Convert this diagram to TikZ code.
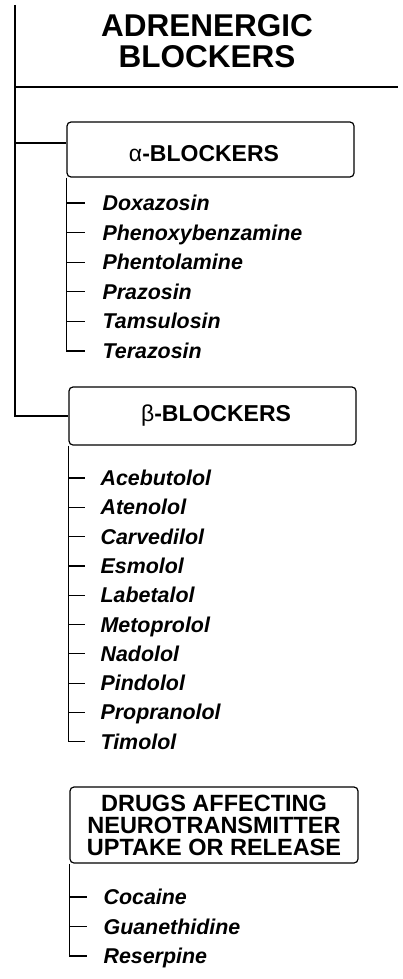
\documentclass[tikz,border=0pt]{standalone}
\usepackage{fontspec}
\setmainfont{Liberation Sans}
\begin{document}
\begin{tikzpicture}[x=1pt,y=-1pt,line width=1.2pt,
  hdr/.style={font=\fontsize{31.5}{31.5}\selectfont\bfseries,anchor=base,inner sep=0pt},
  cbox/.style={draw,rounded corners=4pt,inner sep=0pt},
  ctitle/.style={font=\fontsize{23}{23}\selectfont\bfseries,inner sep=0pt},
  drug/.style={font=\fontsize{21.4}{21.4}\selectfont\bfseries\itshape,anchor=west,inner sep=0pt,text height=15pt,text depth=0pt},
  tick/.style={line width=1.2pt}]
\useasboundingbox (0,0) rectangle (402,979);
% title
\node[hdr] (t1) at (207,37) {ADRENERGIC};
\node[hdr] (t2) at (207,68) {BLOCKERS};
\coordinate (top) at (15,5);
\coordinate (tl) at (15,87);
\coordinate (tlend) at (398,87);
\draw (tl) -- (tlend);
% boxes
\node[cbox,minimum width=287,minimum height=55] (abox) at (210.5,149.5) {};
\node[ctitle] (atext) at (204,154) {{\mdseries α}-BLOCKERS};
\node[cbox,minimum width=287,minimum height=58] (bbox) at (212.5,416) {};
\node[ctitle] (btext) at (216,416) {{\mdseries β}-BLOCKERS};
\node[cbox,minimum width=288,minimum height=76,align=center,
  font=\fontsize{23.5}{22}\selectfont\bfseries] (dbox) at (214,825)
  {DRUGS AFFECTING\\NEUROTRANSMITTER\\UPTAKE OR RELEASE};
% main trunk
\draw (top) |- (bbox.west);
\coordinate (aj) at (15,143);
\draw (aj) -- (aj -| abox.west);
% alpha items
\foreach \n [count=\i from 0] in {Doxazosin,Phenoxybenzamine,Phentolamine,Prazosin,Tamsulosin,Terazosin}
  \node[drug] (a\i) at (102,{203+29.6*\i}) {\n};
\draw (abox.south west) |- ([xshift=-17pt]a5.west);
\foreach \i in {0,...,4}
  \draw[tick] (abox.south west |- a\i.west) -- ([xshift=-17pt]a\i.west);
% beta items
\foreach \n [count=\i from 0] in {Acebutolol,Atenolol,Carvedilol,Esmolol,Labetalol,Metoprolol,Nadolol,Pindolol,Propranolol,Timolol}
  \node[drug] (b\i) at (100,{478+29.3*\i}) {\n};
\draw (bbox.south west) |- ([xshift=-15pt]b9.west);
\foreach \i in {0,...,8}
  \draw[tick] (bbox.south west |- b\i.west) -- ([xshift=-15pt]b\i.west);
% drugs affecting items
\foreach \n [count=\i from 0] in {Cocaine,Guanethidine,Reserpine}
  \node[drug] (d\i) at (103,{897+29.5*\i}) {\n};
\draw (dbox.south west) |- ([xshift=-16pt]d2.west);
\foreach \i in {0,1}
  \draw[tick] (dbox.south west |- d\i.west) -- ([xshift=-16pt]d\i.west);
\end{tikzpicture}
\end{document}
